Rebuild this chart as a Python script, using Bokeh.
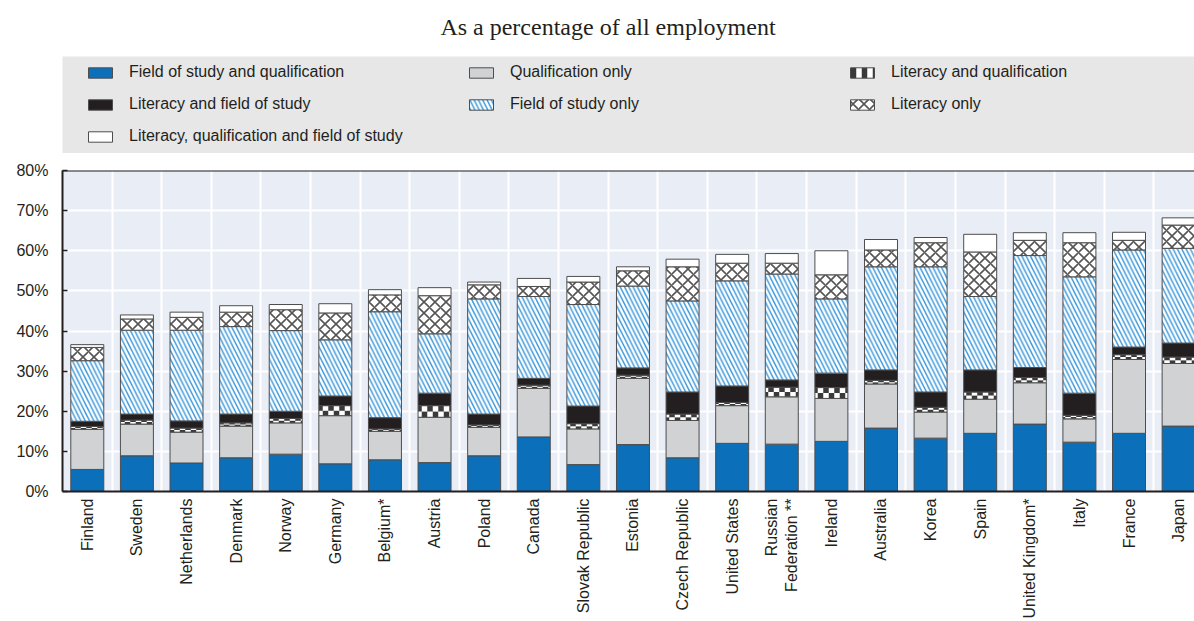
import numpy as np
from bokeh.plotting import figure
from bokeh.models import (ColumnDataSource, Range1d, FixedTicker, PrintfTickFormatter,
                          Legend, LegendItem, Span, Div)
from bokeh.layouts import column
from bokeh.embed import file_html
from bokeh.resources import INLINE

# ---------------- data ----------------
countries = ["Finland", "Sweden", "Netherlands", "Denmark", "Norway", "Germany", "Belgium*",
             "Austria", "Poland", "Canada", "Slovak Republic", "Estonia", "Czech Republic",
             "United States", "Russian\nFederation **", "Ireland", "Australia", "Korea", "Spain",
             "United Kingdom*", "Italy", "France", "Japan"]

field_qual = [5.5, 8.9, 7.1, 8.4, 9.3, 6.9, 7.9, 7.2, 8.9, 13.6, 6.7, 11.7, 8.4, 12.0, 11.8,
              12.5, 15.8, 13.3, 14.5, 16.8, 12.3, 14.5, 16.3]
qual_only = [10.0, 7.9, 7.7, 7.9, 7.8, 12.0, 7.1, 11.3, 7.1, 12.1, 8.9, 16.5, 9.3, 9.4, 11.8,
             10.7, 11.0, 6.5, 8.5, 10.3, 5.8, 18.4, 15.6]
lit_qual = [0.7, 1.0, 1.0, 0.8, 1.1, 2.5, 0.6, 2.9, 0.6, 0.8, 1.3, 0.8, 1.6, 0.8, 2.4,
            2.7, 0.9, 1.2, 1.8, 1.3, 0.9, 1.2, 1.6]
lit_field = [1.3, 1.5, 1.8, 2.2, 1.8, 2.4, 2.8, 3.1, 2.7, 1.7, 4.4, 1.8, 5.5, 4.1, 1.8,
             3.6, 2.6, 3.8, 5.5, 2.5, 5.5, 1.9, 3.5]
field_only = [15.1, 20.9, 22.6, 21.8, 20.1, 14.0, 26.4, 14.8, 28.7, 20.4, 25.3, 20.4, 22.7, 26.2, 26.4,
              18.5, 25.7, 31.2, 18.3, 27.9, 29.0, 24.2, 23.6]
lit_only = [3.3, 2.8, 3.2, 3.6, 5.2, 6.7, 4.2, 9.5, 3.5, 2.5, 5.6, 3.8, 8.5, 4.4, 2.7,
            6.0, 4.2, 6.0, 11.1, 3.8, 8.5, 2.4, 5.8]
lit_qual_field = [0.7, 1.0, 1.3, 1.6, 1.3, 2.3, 1.3, 2.0, 0.7, 2.0, 1.4, 1.0, 1.9, 2.2, 2.4,
                  6.0, 2.6, 1.3, 4.4, 1.9, 2.5, 2.0, 1.8]

series_names = ["Field of study and qualification", "Qualification only", "Literacy and qualification",
                "Literacy and field of study", "Field of study only", "Literacy only",
                "Literacy, qualification and field of study"]
series_values = [field_qual, qual_only, lit_qual, lit_field, field_only, lit_only, lit_qual_field]

y_ticks = [0, 10, 20, 30, 40, 50, 60, 70, 80]
title_text = "As a percentage of all employment"

# ---------------- styles ----------------
FONT = "Liberation Sans"
TXT = "#231f20"
EDGE = "#4d4d4d"
DARK = "#3a3a3a"
BAR_W = 0.665

styles = [
    dict(fill_color="#0b6fb9"),
    dict(fill_color="#d1d2d4"),
    "checker",
    dict(fill_color="#231f20"),
    dict(fill_color="#ffffff", hatch_pattern="left_diagonal_line", hatch_color="#3f99db",
         hatch_weight=1.5, hatch_scale=8.6),
    dict(fill_color="#ffffff", hatch_pattern="diagonal_cross", hatch_color="#555555",
         hatch_weight=1.6, hatch_scale=11),
    dict(fill_color="#ffffff"),
]

n = len(countries)
xs = list(range(n))

# stacked sources
sources = []
bottom = np.zeros(n)
for vals in series_values:
    top = bottom + np.array(vals)
    sources.append(ColumnDataSource(dict(x=xs, bottom=bottom.copy(), top=top,
                                         mid=(bottom + top) / 2)))
    bottom = top


def add_series(fig, src, st):
    """Draw one stacked series; returns the renderers used for its legend swatch."""
    if st == "checker":
        # two rows of complementary stripes -> checkerboard look
        r1 = fig.vbar(x="x", bottom="bottom", top="mid", width=BAR_W, source=src,
                      fill_color="white", hatch_pattern="vertical_line", hatch_color=DARK,
                      hatch_weight=5.5, hatch_scale=11, line_color=None)
        fig.vbar(x="x", bottom="mid", top="top", width=BAR_W, source=src,
                 fill_color=DARK, hatch_pattern="vertical_line", hatch_color="white",
                 hatch_weight=5.5, hatch_scale=11, line_color=None)
        r3 = fig.vbar(x="x", bottom="bottom", top="top", width=BAR_W, source=src,
                      fill_alpha=0, line_color=EDGE, line_width=1)
        return [r1, r3]
    r = fig.vbar(x="x", bottom="bottom", top="top", width=BAR_W, source=src,
                 line_color=EDGE, line_width=1, **st)
    return [r]


# ---------------- title ----------------
title = Div(text=title_text, width=1194, height=48, margin=(0, 0, 0, 0),
            styles={"font-family": "Liberation Serif", "font-size": "24px", "color": TXT,
                    "text-align": "center", "padding-left": "22px", "padding-top": "13px",
                    "line-height": "28px", "box-sizing": "border-box"})

# ---------------- legend panel ----------------
# the panel's x range is placed away from the data so its bars stay out of view;
# they only serve as legend swatches
lf = figure(width=1194, height=105, x_range=Range1d(-2 * n, -n), y_range=Range1d(0, 80),
            x_axis_location=None, y_axis_location=None, toolbar_location=None,
            output_backend="svg",
            min_border_left=62, min_border_right=0, min_border_top=8, min_border_bottom=0,
            background_fill_color="#e7e7e8", outline_line_color=None, border_fill_color="white")
lf.grid.visible = False

items = []
for name, src, st in zip(series_names, sources, styles):
    items.append(LegendItem(label=name, renderers=add_series(lf, src, st)))

legend = Legend(items=items, location=(23, 7), orientation="horizontal", ncols=3,
                glyph_width=30, glyph_height=13, label_standoff=14, label_width=325,
                label_height=20, spacing=12, padding=0, margin=0,
                background_fill_alpha=0, border_line_color=None,
                label_text_font=FONT, label_text_font_size="16px", label_text_color=TXT)
lf.add_layout(legend, "center")

# ---------------- main chart ----------------
p = figure(width=1194, height=468, x_range=Range1d(-0.5, n - 0.68), y_range=Range1d(0, 80),
           toolbar_location=None, output_backend="svg",
           min_border_left=62, min_border_right=0, min_border_top=17, min_border_bottom=0,
           background_fill_color="#e9edf6", outline_line_color=None, border_fill_color="white")

for src, st in zip(sources, styles):
    add_series(p, src, st)

# grids
p.xgrid.ticker = FixedTicker(ticks=[i + 0.5 for i in range(-1, n)])
p.ygrid.ticker = FixedTicker(ticks=y_ticks)
p.grid.grid_line_color = "white"
p.grid.grid_line_width = 2

# x axis
p.xaxis.ticker = FixedTicker(ticks=xs)
p.xaxis.major_label_overrides = {i: c for i, c in enumerate(countries)}
p.xaxis.major_label_orientation = np.pi / 2
p.xaxis.major_tick_in = 0
p.xaxis.major_tick_out = 0
p.xaxis.minor_tick_line_color = None
p.xaxis.major_label_standoff = 7

# y axis
p.yaxis.ticker = FixedTicker(ticks=y_ticks)
p.yaxis.formatter = PrintfTickFormatter(format="%d%%")
p.yaxis.major_tick_in = 5
p.yaxis.major_tick_out = 0
p.yaxis.major_tick_line_color = TXT
p.yaxis.major_tick_line_width = 1.5
p.yaxis.minor_tick_line_color = None
p.yaxis.major_label_standoff = 14

for ax in (p.xaxis, p.yaxis):
    ax.axis_line_color = TXT
    ax.axis_line_width = 2
    ax.major_label_text_font = FONT
    ax.major_label_text_font_size = "16px"
    ax.major_label_text_color = TXT

p.add_layout(Span(location=80, dimension="width", line_color=TXT, line_width=2))

layout = column(title, lf, p, spacing=0)
open("out.html", "w").write(file_html(layout, INLINE))
